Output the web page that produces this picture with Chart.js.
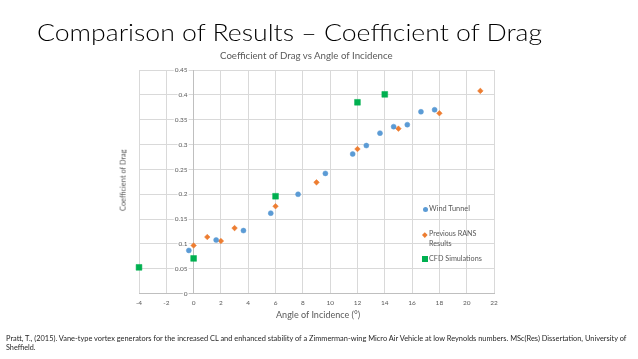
<!DOCTYPE html>
<html><head><meta charset="utf-8">
<script src="https://cdn.jsdelivr.net/npm/chart.js@4.4.0/dist/chart.umd.min.js"></script>
<style>
html,body{margin:0;padding:0;background:#fff;}
#wrap{position:relative;width:638px;height:359px;overflow:hidden;background:#fff;font-family:Lato,"Open Sans",sans-serif;}
#c{position:absolute;left:0;top:0;}
.t{position:absolute;white-space:nowrap;transform-origin:left center;}
.mk{position:absolute;}
</style></head><body>
<div id="wrap">
<canvas id="c" width="638" height="359"></canvas>
<div class="t" id="heading" style="color:#000;font-weight:300">Comparison of Results – Coefficient of Drag</div>
<div class="t" id="ctitle" style="color:#595959">Coefficient of Drag vs Angle of Incidence</div>
<div class="t" id="xtitle" style="color:#595959">Angle of Incidence (°)</div>
<div class="t" id="ytitle" style="color:#595959">Coefficient of Drag</div>
<div class="mk" style="left:422.5px;top:206.8px;width:5px;height:5px;border-radius:50%;background:#5B9BD5"></div>
<div class="mk" style="left:423.2px;top:232.5px;width:3.6px;height:3.6px;background:#ED7D31;transform:rotate(45deg)"></div>
<div class="mk" style="left:421.5px;top:256px;width:6px;height:6px;background:#00B050"></div>
<div class="t" id="lg1" style="color:#595959">Wind Tunnel</div>
<div class="t" id="lg2" style="color:#595959">Previous RANS</div>
<div class="t" id="lg2b" style="color:#595959">Results</div>
<div class="t" id="lg3" style="color:#595959">CFD Simulations</div>
<div class="t" id="foot1" style="color:#262626">Pratt, T., (2015). Vane-type vortex generators for the increased CL and enhanced stability of a Zimmerman-wing Micro Air Vehicle at low Reynolds numbers. MSc(Res) Dissertation, University of</div>
<div class="t" id="foot2" style="color:#262626">Sheffield.</div>
</div>
<script>
// ---- data ----
const seriesNames = ['Wind Tunnel', 'Previous RANS Results', 'CFD Simulations'];
const windAngle = [-0.35, 1.65, 3.65, 5.65, 7.65, 9.65, 11.65, 12.65, 13.65, 14.65, 15.65, 16.65, 17.65];
const windCd    = [0.087, 0.108, 0.127, 0.162, 0.200, 0.242, 0.281, 0.298, 0.323, 0.336, 0.340, 0.366, 0.370];
const ransAngle = [0, 1, 2, 3, 6, 9, 12, 15, 18, 21];
const ransCd    = [0.097, 0.114, 0.106, 0.132, 0.176, 0.224, 0.291, 0.332, 0.363, 0.408];
const cfdAngle  = [-4, 0, 6, 12, 14];
const cfdCd     = [0.053, 0.071, 0.196, 0.385, 0.401];
const xTicks = [-4, -2, 0, 2, 4, 6, 8, 10, 12, 14, 16, 18, 20, 22];
const xTickLabels = ['-4', '-2', '0', '2', '4', '6', '8', '10', '12', '14', '16', '18', '20', '22'];
const yTicks = [0, 0.05, 0.1, 0.15, 0.2, 0.25, 0.3, 0.35, 0.4, 0.45];
const yTickLabels = ['0', '0.05', '0.1', '0.15', '0.2', '0.25', '0.3', '0.35', '0.4', '0.45'];

const pts = (xs, ys) => xs.map((v, i) => ({x: v, y: ys[i]}));

const tickFont = {family: 'Lato', size: 6.5};
const GRID = '#d9d9d9', AXIS = '#bfbfbf', TXT = '#595959';

const yLabelPlugin = {
  id: 'yLabels',
  beforeDatasetsDraw(chart) {
    const {ctx, scales: {x, y}} = chart;
    const ax = x.getPixelForValue(0);
    ctx.save();
    ctx.font = '6.5px Lato';
    ctx.textAlign = 'right';
    ctx.textBaseline = 'middle';
    yTicks.forEach((v, i) => {
      const py = y.getPixelForValue(v);
      const t = yTickLabels[i];
      const w = ctx.measureText(t).width;
      ctx.fillStyle = '#fff';
      ctx.fillRect(ax - 6 - w - 1, py - 3.5, w + 2, 7);
      ctx.fillStyle = TXT;
      ctx.fillText(t, ax - 6, py);
    });
    ctx.restore();
  }
};

new Chart(document.getElementById('c'), {
  type: 'scatter',
  data: {
    datasets: [
      {label: seriesNames[0], data: pts(windAngle, windCd), pointStyle: 'circle', pointRadius: 2.5, borderWidth: 0.5,
       backgroundColor: '#5B9BD5', borderColor: '#5B9BD5', clip: false},
      {label: seriesNames[1], data: pts(ransAngle, ransCd), pointStyle: 'rectRot', pointRadius: 2.8, borderWidth: 0.5,
       backgroundColor: '#ED7D31', borderColor: '#ED7D31', clip: false},
      {label: seriesNames[2], data: pts(cfdAngle, cfdCd), pointStyle: 'rect', pointRadius: 4.1, borderWidth: 0.5,
       backgroundColor: '#00B050', borderColor: '#00B050', clip: false}
    ]
  },
  options: {
    responsive: false,
    animation: false,
    devicePixelRatio: 1,
    layout: {padding: {left: 139, right: 144, top: 70, bottom: 47.5}},
    plugins: {legend: {display: false}, tooltip: {enabled: false}, title: {display: false}},
    scales: {
      x: {
        type: 'linear', position: 'bottom', min: -4, max: 22,
        afterBuildTicks: s => { s.ticks = xTicks.map(v => ({value: v})); },
        ticks: {font: tickFont, color: TXT, padding: 5, maxRotation: 0, autoSkip: false,
                callback: (v) => xTickLabels[xTicks.indexOf(v)]},
        grid: {color: GRID, lineWidth: 1, drawTicks: false},
        border: {color: AXIS, width: 1}
      },
      y: {
        type: 'linear', position: {x: 0}, min: 0, max: 0.45,
        afterBuildTicks: s => { s.ticks = yTicks.map(v => ({value: v})); },
        ticks: {display: false},
        grid: {color: GRID, lineWidth: 1, drawTicks: false},
        border: {color: AXIS, width: 1}
      }
    }
  },
  plugins: [yLabelPlugin]
});

// ---- text placement (layout only) ----
function place(id, fs, left, capCenter, width, rotate) {
  const el = document.getElementById(id);
  el.style.transform = 'none';
  el.style.fontSize = fs + 'px';
  el.style.lineHeight = fs + 'px';
  const w = el.offsetWidth;
  const k = width / w;
  if (!rotate) {
    el.style.left = left + 'px';
    el.style.top = (capCenter - 0.529 * fs) + 'px';
    el.style.transform = 'scaleX(' + k + ')';
  } else {
    el.style.transformOrigin = 'center center';
    el.style.left = (left - w / 2) + 'px';
    el.style.top = (capCenter - 0.5 * fs) + 'px';
    el.style.transform = 'rotate(-90deg) scaleX(' + k + ')';
  }
}
function layoutText() {
  place('heading', 24, 37, 32.5, 505);
  place('ctitle', 9.3, 220, 56, 173);
  place('xtitle', 8.5, 276, 315, 84);
  place('ytitle', 8.4, 123.3, 180, 62, true);
  place('lg1', 7.5, 429.3, 209.3, 41.4);
  place('lg2', 7.5, 429, 234.3, 47.7);
  place('lg2b', 7.5, 429, 244.3, 23);
  place('lg3', 7.5, 429, 259, 53);
  place('foot1', 7, 6, 339.2, 620.7);
  place('foot2', 7, 6, 348.2, 29);
}
layoutText();
if (document.fonts && document.fonts.ready) { document.fonts.ready.then(layoutText); }
</script>
</body></html>
